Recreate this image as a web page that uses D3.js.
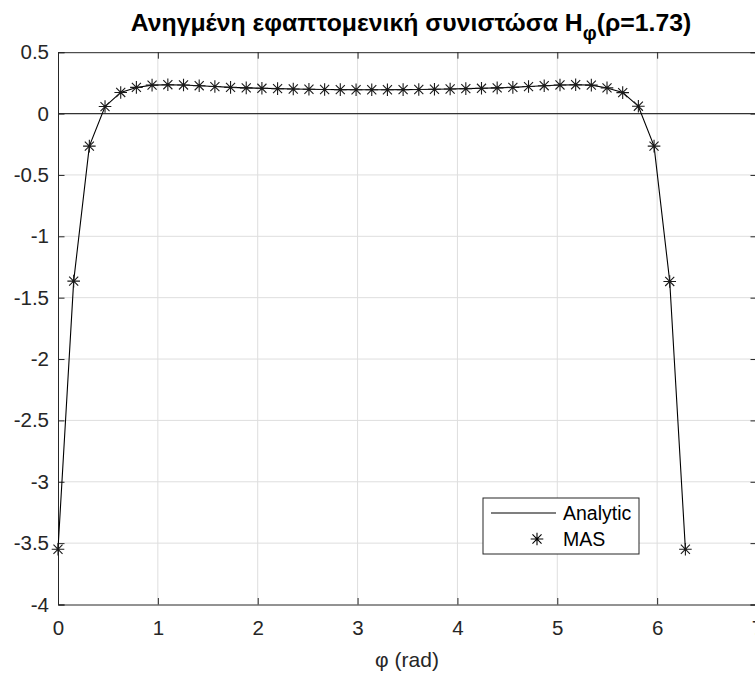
<!DOCTYPE html>
<html>
<head>
<meta charset="utf-8">
<script src="https://cdn.jsdelivr.net/npm/d3@7"></script>
<style>
  body { margin: 0; background: #fff; }
  svg { display: block; font-family: "Liberation Sans", Arial, Helvetica, sans-serif; }
</style>
</head>
<body>
<div id="chart"></div>
<script>
// phi sample points (rad), 41 points from 0 to 2*pi
var phi = [0, 0.157, 0.314, 0.471, 0.628, 0.785, 0.942, 1.100, 1.257, 1.414,
  1.571, 1.728, 1.885, 2.042, 2.199, 2.356, 2.513, 2.670, 2.827, 2.985,
  3.142, 3.299, 3.456, 3.613, 3.770, 3.927, 4.084, 4.241, 4.398, 4.555,
  4.712, 4.869, 5.027, 5.184, 5.341, 5.498, 5.655, 5.812, 5.969, 6.126, 6.283];

var analytic = [-3.55, -1.365, -0.265, 0.057, 0.172, 0.213, 0.232, 0.235, 0.233, 0.227,
  0.220, 0.213, 0.209, 0.206, 0.203, 0.200, 0.198, 0.196, 0.195, 0.194,
  0.194, 0.194, 0.195, 0.196, 0.198, 0.200, 0.203, 0.206, 0.209, 0.213,
  0.220, 0.227, 0.233, 0.235, 0.232, 0.209, 0.171, 0.060, -0.265, -1.368, -3.55];

var mas = [-3.55, -1.365, -0.265, 0.057, 0.172, 0.213, 0.232, 0.235, 0.233, 0.227,
  0.220, 0.213, 0.209, 0.206, 0.203, 0.200, 0.198, 0.196, 0.195, 0.194,
  0.194, 0.194, 0.195, 0.196, 0.198, 0.200, 0.203, 0.206, 0.209, 0.213,
  0.220, 0.227, 0.233, 0.235, 0.232, 0.209, 0.171, 0.060, -0.265, -1.368, -3.55];

var xTicks = [0, 1, 2, 3, 4, 5, 6, 7];
var yTicks = [-4, -3.5, -3, -2.5, -2, -1.5, -1, -0.5, 0, 0.5];
var seriesNames = ["Analytic", "MAS"];

var width = 755, height = 675;
var margin = {top: 52.2, right: -2, bottom: 70.5, left: 58};
var innerW = width - margin.left - margin.right,
    innerH = height - margin.top - margin.bottom;

var axisColor = "#262626";

var svg = d3.select("#chart").append("svg")
  .attr("width", width)
  .attr("height", height);

var x = d3.scaleLinear().domain([0, 7]).range([0, innerW]);
var y = d3.scaleLinear().domain([-4, 0.5]).range([innerH, 0]);

var g = svg.append("g")
  .attr("transform", "translate(" + margin.left + "," + margin.top + ")");

// grid
g.append("g").selectAll("line")
  .data(xTicks.slice(1, -1))
  .enter().append("line")
  .attr("x1", function(d) { return x(d); })
  .attr("x2", function(d) { return x(d); })
  .attr("y1", 0).attr("y2", innerH)
  .style("stroke", "#dedede").style("stroke-width", 1);

g.append("g").selectAll("line")
  .data(yTicks.slice(1, -1))
  .enter().append("line")
  .attr("x1", 0).attr("x2", innerW)
  .attr("y1", function(d) { return y(d); })
  .attr("y2", function(d) { return y(d); })
  .style("stroke", "#dedede").style("stroke-width", 1);

// zero line
g.append("line")
  .attr("x1", 0).attr("x2", innerW)
  .attr("y1", y(0)).attr("y2", y(0))
  .style("stroke", "#333").style("stroke-width", 1.3);

// axes (ticks inward, box on)
var tickLen = 6.5;
var xAxisB = d3.axisBottom(x).tickValues(xTicks).tickSize(-tickLen).tickPadding(16).tickFormat(d3.format("d"));
var xAxisT = d3.axisTop(x).tickValues(xTicks).tickSize(-tickLen).tickFormat("");
var yAxisL = d3.axisLeft(y).tickValues(yTicks).tickSize(-tickLen).tickPadding(9).tickFormat(function(d) { return String(d); });
var yAxisR = d3.axisRight(y).tickValues(yTicks).tickSize(-tickLen).tickFormat("");

function styleAxis(sel) {
  sel.select(".domain").style("stroke", axisColor).style("stroke-width", 1);
  sel.selectAll(".tick line").style("stroke", axisColor).style("stroke-width", 1);
  sel.selectAll("text").style("fill", axisColor).style("font-size", "20.5px")
    .style("font-family", "\"Liberation Sans\", Arial, sans-serif");
}

g.append("g").attr("transform", "translate(0," + innerH + ")").call(xAxisB).call(styleAxis);
g.append("g").call(xAxisT).call(styleAxis);
g.append("g").call(yAxisL).call(styleAxis);
g.append("g").attr("transform", "translate(" + innerW + ",0)").call(yAxisR).call(styleAxis);

// analytic line
var line = d3.line()
  .x(function(d, i) { return x(phi[i]); })
  .y(function(d) { return y(d); });

g.append("path")
  .datum(analytic)
  .attr("d", line)
  .style("fill", "none")
  .style("stroke", "#000")
  .style("stroke-width", 1.1);

// asterisk marker
function starPath(r) {
  var a = r * 0.72;
  return "M" + (-r) + ",0L" + r + ",0M0," + (-r) + "L0," + r +
    "M" + (-a) + "," + (-a) + "L" + a + "," + a +
    "M" + (-a) + "," + a + "L" + a + "," + (-a);
}

g.append("g").selectAll("path")
  .data(mas)
  .enter().append("path")
  .attr("transform", function(d, i) { return "translate(" + x(phi[i]) + "," + y(d) + ")"; })
  .attr("d", starPath(6.3))
  .style("fill", "none")
  .style("stroke", "#1a1a1a")
  .style("stroke-width", 1.1);

// title
var title = svg.append("text")
  .attr("x", 411)
  .attr("y", 31)
  .attr("text-anchor", "middle")
  .style("font-size", "24.8px")
  .style("font-weight", "bold")
  .style("fill", "#000");
title.append("tspan").text("Ανηγμένη εφαπτομενική συνιστώσα H");
title.append("tspan").attr("dy", 9).style("font-size", "19.5px").text("φ");
title.append("tspan").attr("dy", -9).text("(ρ=1.73)");

// x label
svg.append("text")
  .attr("x", 407)
  .attr("y", 667)
  .attr("text-anchor", "middle")
  .style("font-size", "21px")
  .style("fill", axisColor)
  .text("φ (rad)");

// legend
var legend = svg.append("g").attr("transform", "translate(483,498)");
legend.append("rect")
  .attr("x", 0).attr("y", 0)
  .attr("width", 156).attr("height", 56)
  .style("fill", "#fff")
  .style("stroke", axisColor)
  .style("stroke-width", 1);

legend.append("line")
  .attr("x1", 8).attr("x2", 73)
  .attr("y1", 15).attr("y2", 15)
  .style("stroke", "#000").style("stroke-width", 1.1);

legend.append("path")
  .attr("transform", "translate(54,41)")
  .attr("d", starPath(6.3))
  .style("fill", "none").style("stroke", "#000").style("stroke-width", 1.1);

legend.selectAll("text.leg")
  .data(seriesNames)
  .enter().append("text")
  .attr("class", "leg")
  .attr("x", 80)
  .attr("y", function(d, i) { return 15 + i * 26; })
  .attr("dy", "0.35em")
  .style("font-size", "19.5px")
  .style("fill", "#000")
  .text(function(d) { return d; });
</script>
</body>
</html>
